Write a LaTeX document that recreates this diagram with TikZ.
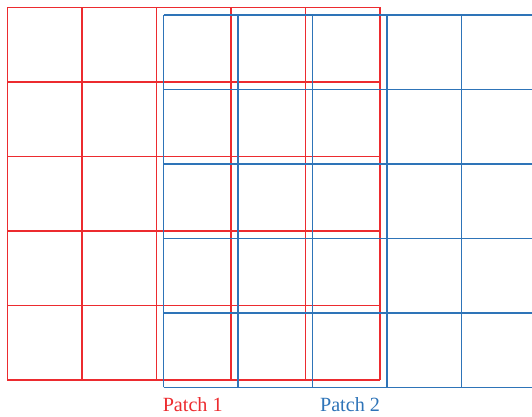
\documentclass[tikz,border=0pt]{standalone}
\usepackage{fontspec}
\setmainfont{Liberation Serif}
\usetikzlibrary{positioning}
\definecolor{patchred}{HTML}{EC2B2F}
\definecolor{patchblue}{HTML}{2E74B8}

\begin{document}
\begin{tikzpicture}[
    gridline/.style={draw=#1, line width=0.6pt},
    patchlabel/.style={font=\fontsize{7.7}{9}\selectfont, text=#1, inner sep=0pt}
]

% Frame
\clip (0,0) rectangle (7.141,5.597);

% Patch 1
\begin{scope}[shift={(0.098,0.497)}]
  \draw[gridline=patchred] (0,0) grid (5,5);
\end{scope}

% Patch 2
\begin{scope}[shift={(2.195,0.397)}]
  \draw[gridline=patchblue] (0,0) grid (5,5);
\end{scope}

% Labels
\node[patchlabel=patchred] (lab1) at (2.587,0.16) {Patch 1};
\node[patchlabel=patchblue] (lab2) at (4.698,0.16) {Patch 2};

\end{tikzpicture}
\end{document}
